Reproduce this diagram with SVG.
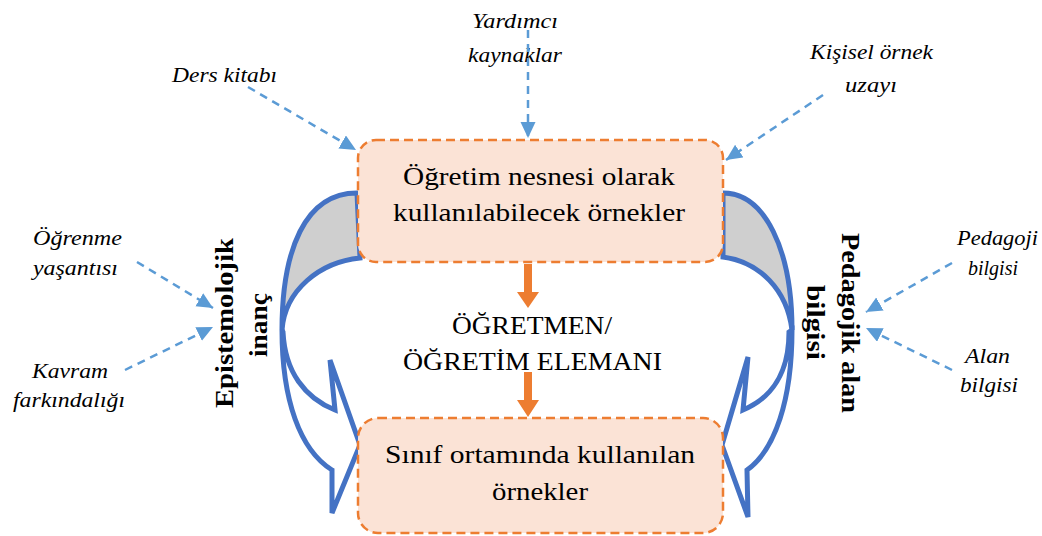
<svg xmlns="http://www.w3.org/2000/svg" width="1042" height="536" viewBox="0 0 1042 536" font-family="Liberation Serif, serif">
<style>
.box{fill:#fbe3d6;stroke:#ed7d31;stroke-width:2.5;stroke-dasharray:9 5}
.bt{font-family:"Liberation Serif",serif;font-size:25px;fill:#000;text-anchor:middle}
.it{font-family:"Liberation Serif",serif;font-style:italic;font-size:22px;fill:#000;text-anchor:middle}
.bd{font-family:"Liberation Serif",serif;font-weight:bold;font-size:26px;fill:#000;text-anchor:middle}
.dash{fill:none;stroke:#5b9bd5;stroke-width:2.5;stroke-dasharray:8 6;marker-end:url(#ah)}
.carrow{stroke:#4472c4;stroke-width:5;stroke-linejoin:miter}
.oarr{fill:#ed7d31}
</style>
<defs>
<marker id="ah" markerUnits="userSpaceOnUse" markerWidth="18" markerHeight="16" refX="16" refY="7.5" orient="auto">
<path d="M0,0 L16,7.5 L0,15 z" fill="#5b9bd5"/>
</marker>
</defs>
<rect width="1042" height="536" fill="#fff"/>

<g id="curved-left">
<path class="carrow" fill="#cfcfcf" d="M357,193 C305,193 282,250 282,330 C285,290 320,262 360,258 Z"/>
<path class="carrow" fill="#fff" d="M282,330 C282,400 300,450 332,470 L332,513 L360,445 L330,360 L335,410 C305,398 285,372 283,332 Z"/>
</g>
<g id="curved-right">
<path class="carrow" fill="#cfcfcf" d="M723,193 C765,193 792,250 792,330 C787,290 760,262 723,257 Z"/>
<path class="carrow" fill="#fff" d="M792,330 C792,400 775,450 747,470 L748,517 L722,445 L748,357 L743,410 C772,398 789,372 789,332 Z"/>
</g>

<g id="box-top">
<rect class="box" x="358" y="140" width="365" height="122" rx="18"/>
<text class="bt" x="539" y="185" textLength="272" lengthAdjust="spacingAndGlyphs">Öğretim nesnesi olarak</text>
<text class="bt" x="539" y="221" textLength="292" lengthAdjust="spacingAndGlyphs">kullanılabilecek örnekler</text>
</g>

<g id="teacher">
<text class="bt" x="532" y="334" textLength="160" lengthAdjust="spacingAndGlyphs">ÖĞRETMEN/</text>
<text class="bt" x="532.5" y="370" textLength="259" lengthAdjust="spacingAndGlyphs">ÖĞRETİM ELEMANI</text>
</g>

<g id="box-bottom">
<rect class="box" x="358" y="418" width="365" height="115" rx="20"/>
<text class="bt" x="540" y="463" textLength="310" lengthAdjust="spacingAndGlyphs">Sınıf ortamında kullanılan</text>
<text class="bt" x="540" y="500" textLength="96" lengthAdjust="spacingAndGlyphs">örnekler</text>
</g>

<g id="epistemolojik">
<text class="bd" transform="translate(233,323) rotate(-90)" textLength="170" lengthAdjust="spacingAndGlyphs">Epistemolojik</text>
<text class="bd" transform="translate(267,325) rotate(-90)" textLength="64" lengthAdjust="spacingAndGlyphs">inanç</text>
</g>
<g id="pedagojik">
<text class="bd" transform="translate(842,323) rotate(90)" textLength="180" lengthAdjust="spacingAndGlyphs">Pedagojik alan</text>
<text class="bd" transform="translate(807,322.5) rotate(90)" textLength="75" lengthAdjust="spacingAndGlyphs">bilgisi</text>
</g>

<g id="label-ders"><text class="it" x="224.5" y="82" textLength="105" lengthAdjust="spacingAndGlyphs">Ders kitabı</text></g>
<g id="label-yardimci">
<text class="it" x="515" y="28" textLength="86" lengthAdjust="spacingAndGlyphs">Yardımcı</text>
<text class="it" x="515" y="62" textLength="94" lengthAdjust="spacingAndGlyphs">kaynaklar</text>
</g>
<g id="label-kisisel">
<text class="it" x="871.5" y="59" textLength="123" lengthAdjust="spacingAndGlyphs">Kişisel örnek</text>
<text class="it" x="871" y="92" textLength="52" lengthAdjust="spacingAndGlyphs">uzayı</text>
</g>
<g id="label-ogrenme">
<text class="it" x="77.5" y="245" textLength="89" lengthAdjust="spacingAndGlyphs">Öğrenme</text>
<text class="it" x="75.5" y="275" textLength="85" lengthAdjust="spacingAndGlyphs">yaşantısı</text>
</g>
<g id="label-kavram">
<text class="it" x="70" y="378" textLength="76" lengthAdjust="spacingAndGlyphs">Kavram</text>
<text class="it" x="69" y="407" textLength="112" lengthAdjust="spacingAndGlyphs">farkındalığı</text>
</g>
<g id="label-pedagoji">
<text class="it" x="997.5" y="245" textLength="81" lengthAdjust="spacingAndGlyphs">Pedagoji</text>
<text class="it" x="993" y="275" textLength="50" lengthAdjust="spacingAndGlyphs">bilgisi</text>
</g>
<g id="label-alan">
<text class="it" x="987.5" y="363" textLength="45" lengthAdjust="spacingAndGlyphs">Alan</text>
<text class="it" x="989" y="392" textLength="58" lengthAdjust="spacingAndGlyphs">bilgisi</text>
</g>

<g id="connectors">
<line class="dash" x1="248" y1="87" x2="356" y2="150"/>
<line class="dash" x1="528" y1="30" x2="528" y2="138"/>
<line class="dash" x1="823" y1="95" x2="726" y2="160"/>
<line class="dash" x1="137" y1="262" x2="213" y2="308"/>
<line class="dash" x1="125" y1="370" x2="213" y2="327"/>
<line class="dash" x1="952" y1="263" x2="866" y2="312"/>
<line class="dash" x1="952" y1="370" x2="866" y2="328"/>
<polygon class="oarr" points="524,264 532,264 532,292 539,292 528,308 517,292 524,292"/>
<polygon class="oarr" points="524,372 532,372 532,400 539,400 528,417 517,400 524,400"/>
</g>
</svg>
